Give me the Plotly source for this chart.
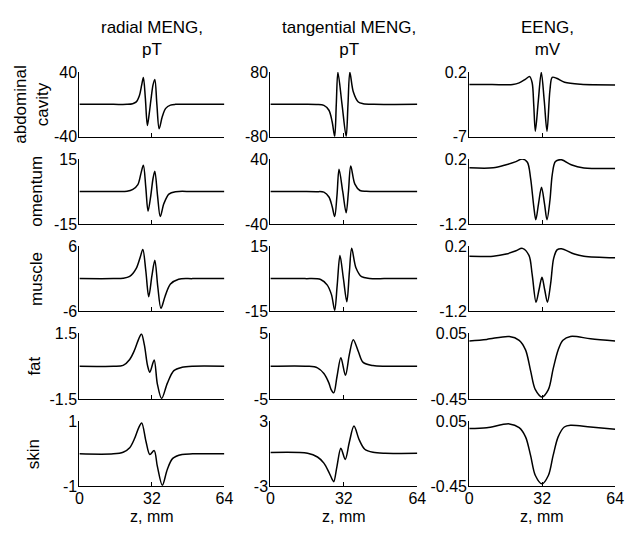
import plotly.graph_objects as go

# ---------------- data ----------------
col_titles = ["radial MENG,<br>pT", "tangential MENG,<br>pT", "EENG,<br>mV"]
row_titles = ["abdominal<br>cavity", "omentum", "muscle", "fat", "skin"]
x_ticks = [0, 32, 64]
x_title = "z, mm"

# y-axis limits per panel (rows x cols)
y_lims = [
    [(-40, 40), (-80, 80), (-7, 0.2)],
    [(-15, 15), (-40, 40), (-1.2, 0.2)],
    [(-6, 6), (-15, 15), (-1.2, 0.2)],
    [(-1.5, 1.5), (-5, 5), (-0.45, 0.05)],
    [(-1, 1), (-3, 3), (-0.45, 0.05)],
]
y_ticktext = [
    [("-40", "40"), ("-80", "80"), ("-7", "0.2")],
    [("-15", "15"), ("-40", "40"), ("-1.2", "0.2")],
    [("-6", "6"), ("-15", "15"), ("-1.2", "0.2")],
    [("-1.5", "1.5"), ("-5", "5"), ("-0.45", "0.05")],
    [("-1", "1"), ("-3", "3"), ("-0.45", "0.05")],
]

# radial MENG
z_rad_abd = [0, 15, 21, 23.5, 25.1, 26.5, 27.5, 28.25, 29.1, 30.0, 30.8, 31.6, 32.5, 33.3, 34.2, 35.2, 36.6, 38.1, 40.2, 42.4, 50, 64]
v_rad_abd = [0, 0, 0, 0.8, 3, 11, 24, 33, 8, -26, -12, 6, 24, 30.7, 0, -30, -15, -5, -1, 0, 0, 0]
z_rad_om = [0, 15, 21, 23.6, 25.8, 27.2, 28.25, 29.3, 30.3, 31.5, 32.5, 33.3, 34.5, 35.7, 37.3, 39.5, 42.4, 50, 64]
v_rad_om = [0, 0, 0.1, 1, 3.2, 8.5, 12.1, 2, -9.1, -2, 6, 9.4, -2, -11.6, -5.6, -1.2, -0.1, 0, 0]
z_rad_mus = [0, 15, 19.3, 22.2, 25.1, 26.8, 28.0, 29.3, 30.6, 32.0, 33.3, 34.6, 36.0, 37.8, 40.2, 43.8, 50, 64]
v_rad_mus = [0, 0, 0.05, 0.4, 1.9, 3.9, 5.4, 1.5, -3.35, 0.5, 3.4, -1.5, -5.5, -3.3, -1.0, -0.1, 0, 0]
z_rad_fat = [0, 15, 19.3, 22.2, 24.4, 26.2, 27.4, 28.7, 30.1, 31.1, 33.0, 34.4, 36.3, 38.8, 41.7, 45.3, 50, 64]
v_rad_fat = [0, 0, 0.04, 0.31, 0.75, 1.25, 1.47, 0.96, 0.02, -0.27, 0.28, -0.8, -1.47, -0.78, -0.2, -0.05, 0, 0]
z_rad_skin = [0, 15, 19.3, 22.2, 24.4, 26.2, 27.5, 29.4, 31.1, 33.0, 34.4, 36.6, 38.8, 41.2, 45.3, 50, 64]
v_rad_skin = [0, 0, 0.05, 0.19, 0.48, 0.81, 0.95, 0.38, -0.02, 0.1, -0.38, -0.97, -0.48, -0.14, -0.02, 0, 0]

# tangential MENG
z_tan_abd = [0, 15, 20, 23.3, 25.5, 26.9, 28.0, 28.7, 29.4, 31.2, 33.0, 33.8, 34.6, 36.1, 38.3, 40.4, 45, 64]
v_tan_abd = [0, 0, -0.5, -2.4, -14.6, -43, -79, 0, 79, 0, -79, 0, 79, 31, 5.7, 1.6, 0, 0]
z_tan_om = [0, 15, 20, 23.3, 25.5, 26.9, 28.0, 29.0, 29.9, 31.5, 33.0, 34.0, 35.0, 36.8, 39.0, 41.8, 50, 64]
v_tan_om = [0, 0, -0.2, -0.8, -6.8, -18.5, -31, -5, 27.5, 0, -26.3, 0, 31.4, 9, 1.2, 0.2, 0, 0]
z_tan_mus = [0, 15, 21.9, 24.7, 26.6, 28.0, 29.1, 30.3, 31.8, 33.3, 34.4, 35.4, 37.3, 39.7, 43.2, 50, 64]
v_tan_mus = [0, 0, -0.4, -2.9, -7.4, -14.6, -3, 10.7, 0, -10.7, 3, 14, 4.9, 0.9, 0.1, 0, 0]
z_tan_fat = [0, 16.2, 20.5, 23.3, 25.5, 26.4, 27.6, 29.0, 30.7, 32.7, 34.4, 36.1, 38.3, 40.4, 44.7, 50.3, 64]
v_tan_fat = [0, 0, -0.24, -1.1, -2.56, -3.5, -4.03, -1.6, 1.28, -1.38, 1.8, 4.03, 2.25, 0.58, 0.1, 0, 0]
z_tan_skin = [0, 16.2, 20.5, 23.3, 25.5, 26.9, 27.6, 29.0, 30.7, 32.6, 34.4, 36.4, 38.7, 41.1, 44.7, 50, 64]
v_tan_skin = [0.12, 0.05, -0.29, -0.86, -1.71, -2.35, -2.57, -1.15, 0.51, -0.51, 1.1, 2.57, 1.29, 0.43, 0.14, 0.05, 0.05]

# EENG
z_een_abd = [0, 10, 19.1, 21.9, 24.7, 26.5, 27.6, 28.3, 29.0, 30.3, 31.6, 32.9, 34.1, 35.4, 36.4, 38.3, 41.8, 48.9, 64]
v_een_abd = [-1.2, -1.2, -1.2, -1.02, -0.6, -0.32, -1.0, -3.5, -6.38, -3.0, 0.15, -3.0, -6.38, -1.81, -0.4, -0.5, -0.95, -1.18, -1.25]
z_een_om = [0, 10.5, 16.2, 20.5, 23.3, 25.5, 26.9, 28.3, 29.2, 30.4, 31.7, 33.0, 34.1, 35.4, 36.4, 37.8, 40.4, 44.7, 50.3, 64]
v_een_om = [0.01, 0.01, 0.077, 0.145, 0.2, 0.13, -0.21, -0.82, -1.11, -0.76, -0.41, -0.76, -1.11, -0.69, -0.14, 0.145, 0.186, 0.077, 0.009, -0.005]
z_een_mus = [0, 10.5, 16.2, 20.5, 23.3, 26.2, 27.6, 29.3, 30.6, 31.9, 33.1, 34.3, 35.7, 37.0, 38.5, 40.4, 46.1, 50.3, 64]
v_een_mus = [-0.02, -0.015, 0.03, 0.1, 0.153, 0.0, -0.41, -1.01, -0.74, -0.47, -0.74, -1.01, -0.61, -0.07, 0.12, 0.146, 0.03, -0.015, -0.05]
z_een_fat = [0, 7.7, 17.6, 21.9, 24.7, 26.9, 29.0, 31.9, 34.7, 36.8, 39.0, 41.1, 44.4, 53.2, 64]
v_een_fat = [-0.008, 0.004, 0.026, -0.003, -0.076, -0.233, -0.378, -0.433, -0.378, -0.22, -0.076, -0.003, 0.026, 0.009, -0.008]
z_een_skin = [0, 7.7, 17.6, 21.9, 24.7, 26.9, 29.0, 31.9, 34.7, 36.8, 39.0, 41.7, 44.4, 53.2, 64]
v_een_skin = [-0.005, 0.002, 0.031, 0.002, -0.069, -0.212, -0.367, -0.431, -0.367, -0.212, -0.069, 0.007, 0.021, 0.007, -0.01]

series = [
    [(z_rad_abd, v_rad_abd), (z_tan_abd, v_tan_abd), (z_een_abd, v_een_abd)],
    [(z_rad_om, v_rad_om), (z_tan_om, v_tan_om), (z_een_om, v_een_om)],
    [(z_rad_mus, v_rad_mus), (z_tan_mus, v_tan_mus), (z_een_mus, v_een_mus)],
    [(z_rad_fat, v_rad_fat), (z_tan_fat, v_tan_fat), (z_een_fat, v_een_fat)],
    [(z_rad_skin, v_rad_skin), (z_tan_skin, v_tan_skin), (z_een_skin, v_een_skin)],
]

# ---------------- layout ----------------
W, H = 632, 535
FONT = "Liberation Sans, Arial, Helvetica, sans-serif"
col_px = [(77, 225), (272, 422), (475, 624)]
row_px = [(66, 133), (156, 223), (246, 313), (336, 404), (427, 494)]

fig = go.Figure()
layout = dict(
    width=W, height=H, margin=dict(l=0, r=0, t=0, b=0),
    paper_bgcolor="white", plot_bgcolor="white", showlegend=False,
    font=dict(family=FONT, size=16, color="black"),
)

k = 0
for r in range(5):
    for c in range(3):
        k += 1
        xa = "x" if k == 1 else f"x{k}"
        ya = "y" if k == 1 else f"y{k}"
        zz, vv = series[r][c]
        fig.add_trace(go.Scatter(x=zz, y=vv, mode="lines", xaxis=xa, yaxis=ya,
                                 line=dict(color="black", width=1.5, shape="spline", smoothing=0.9),
                                 hoverinfo="skip"))
        x0, x1 = col_px[c]
        t, b = row_px[r]
        lo, hi = y_lims[r][c]
        layout["xaxis" if k == 1 else f"xaxis{k}"] = dict(
            domain=[x0 / W, x1 / W], anchor=ya, range=[0, 64],
            showline=True, linecolor="black", linewidth=1.2, mirror=False,
            ticks="inside", ticklen=4, tickwidth=1, tickcolor="black",
            tickvals=x_ticks, ticktext=[str(v) for v in x_ticks],
            showticklabels=(r == 4), showgrid=False, zeroline=False,
            tickfont=dict(size=16, family=FONT), ticklabelstandoff=-3,
        )
        layout["yaxis" if k == 1 else f"yaxis{k}"] = dict(
            domain=[1 - b / H, 1 - t / H], anchor=xa, range=[lo, hi],
            showline=True, linecolor="black", linewidth=1.2,
            ticks="inside", ticklen=4, tickwidth=1, tickcolor="black",
            tickvals=[lo, hi], ticktext=list(y_ticktext[r][c]),
            showgrid=False, zeroline=False,
            tickfont=dict(size=16, family=FONT), ticklabelstandoff=-2,
        )

annotations = []
col_title_x = [151, 352, 555]
for c in range(3):
    annotations.append(dict(text=col_titles[c], x=col_title_x[c] / W, y=1 - 31 / H,
                            xref="paper", yref="paper", showarrow=False,
                            xanchor="center", yanchor="middle",
                            font=dict(size=17, family=FONT)))
    annotations.append(dict(text=x_title, x=(col_px[c][0] + col_px[c][1]) / 2 / W, y=0,
                            xref="paper", yref="paper", showarrow=False,
                            xanchor="center", yanchor="bottom", borderpad=0,
                            font=dict(size=16, family=FONT)))
row_label_x = [28, 33, 33, 31, 31]
for r in range(5):
    t, b = row_px[r]
    annotations.append(dict(text=row_titles[r], x=row_label_x[r] / W, y=1 - (t + b) / 2 / H,
                            xref="paper", yref="paper", showarrow=False, textangle=-90,
                            xanchor="center", yanchor="middle",
                            font=dict(size=17, family=FONT)))
layout["annotations"] = annotations
fig.update_layout(**layout)
fig.write_html("out.html")
